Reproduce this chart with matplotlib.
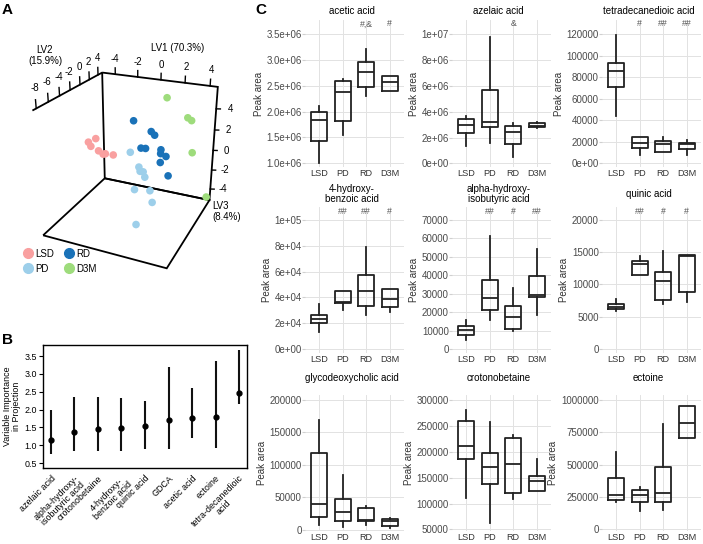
import matplotlib
matplotlib.use('Agg')
import matplotlib.pyplot as plt
import matplotlib.transforms as mtransforms
from matplotlib.lines import Line2D
from mpl_toolkits.mplot3d import proj3d
import numpy as np

plt.rcParams['font.family'] = ['Liberation Sans', 'DejaVu Sans']

W, H = 703, 544

# ---------------- Panel A data (latent variable scores) ----------------
groups = ['LSD', 'PD', 'RD', 'D3M']
group_colors = ['#F9A0A0', '#9DCFEA', '#1A72B8', '#9EDC7C']

LSD_LV1 = [-4.3, -5.2, -4.9, -4.0, -3.9, -3.5, -2.9]
LSD_LV2 = [0.8, 1.3, 1.1, 0.6, 1.4, 0.9, 1.2]
LSD_LV3 = [0.8, 0.1, -0.2, -0.3, -0.9, -0.6, -0.7]

PD_LV1 = [0.3, 1.1, 1.1, 1.4, 1.5, 0.6, 2.0, 2.1, 0.9]
PD_LV2 = [-3.8, -4.2, -3.9, -4.1, -4.0, -3.7, -4.3, -4.0, -4.2]
PD_LV3 = [2.0, 1.0, 0.5, 0.6, 0.1, -1.4, -0.9, -2.1, -4.5]

RD_LV1 = [-1.1, 0.5, 0.7, -0.3, -0.1, 1.3, 1.7, 1.2, 1.3, 1.9]
RD_LV2 = [1.2, 0.8, 1.1, 0.7, 1.3, 0.9, 1.0, 1.2, 0.8, 1.1]
RD_LV3 = [3.0, 2.4, 2.0, 0.7, 0.5, 0.8, 0.2, 0.3, -0.4, -1.7]

D3M_LV1 = [1.1, 3.3, 3.6, 4.0, 4.4]
D3M_LV2 = [3.0, 1.0, 1.0, 0.0, 4.5]
D3M_LV3 = [5.0, 4.1, 3.9, 1.4, -4.7]

LV1_ticks = [-4, -2, 0, 2, 4]
LV2_ticks = [-8, -6, -4, -2, 0, 2, 4]
LV3_ticks = [-4, -2, 0, 2, 4]
LV1_title = 'LV1 (70.3%)'
LV2_title = 'LV2\n(15.9%)'
LV3_title = 'LV3\n(8.4%)'

# ---------------- Panel B data (VIP) ----------------
vip_names = ['azelaic acid', 'alpha-hydroxy-\nisobutyric acid', 'crotonobetaine',
             '4-hydroxy-\nbenzoic acid', 'quinic acid', 'GDCA', 'acetic acid',
             'ectoine', 'tetra-decanedioic\nacid']
vip_mean = [1.15, 1.38, 1.46, 1.49, 1.54, 1.71, 1.77, 1.79, 2.47]
vip_low = [0.76, 0.84, 0.84, 0.84, 0.90, 0.90, 1.19, 0.93, 2.15]
vip_high = [1.99, 2.36, 2.36, 2.33, 2.24, 3.20, 2.60, 3.36, 3.67]
vip_yticks = [0.5, 1.0, 1.5, 2.0, 2.5, 3.0, 3.5]

# ---------------- Panel C data (box stats: whislo, q1, med, q3, whishi) ----------------
box_groups = ['LSD', 'PD', 'RD', 'D3M']

acetic_acid = [[1.00e6, 1.43e6, 1.83e6, 1.99e6, 2.11e6],
               [1.54e6, 1.82e6, 2.39e6, 2.60e6, 2.63e6],
               [2.31e6, 2.47e6, 2.76e6, 2.97e6, 3.21e6],
               [2.40e6, 2.41e6, 2.58e6, 2.69e6, 2.70e6]]
azelaic_acid = [[1.37e6, 2.33e6, 2.95e6, 3.44e6, 3.70e6],
                [1.55e6, 2.82e6, 3.23e6, 5.68e6, 9.82e6],
                [0.52e6, 1.47e6, 2.43e6, 2.92e6, 3.10e6],
                [2.75e6, 2.79e6, 2.90e6, 3.15e6, 3.20e6]]
tetradecanedioic_acid = [[44300, 71300, 85900, 93000, 119400],
                         [7750, 14000, 18600, 24800, 24800],
                         [10800, 10900, 18000, 21100, 24200],
                         [7750, 13300, 18000, 19200, 21700]]
hydroxybenzoic_acid = [[13500, 20000, 23400, 26000, 35000],
                       [30400, 35600, 36400, 45000, 45000],
                       [26000, 33000, 44700, 57700, 79200],
                       [28600, 32500, 39000, 46800, 46800]]
hydroxyisobutyric_acid = [[4900, 7800, 10500, 12400, 16000],
                          [16000, 20900, 27800, 37600, 61300],
                          [9600, 10900, 17300, 23300, 33300],
                          [18200, 28200, 29100, 39500, 54500]]
quinic_acid = [[5900, 6200, 6560, 7030, 7690],
               [11540, 11540, 13230, 13590, 14460],
               [7030, 7640, 10510, 11900, 15230],
               [7280, 8820, 14360, 14620, 14620]]
glycodeoxycholic_acid = [[6700, 19100, 38700, 117500, 169000],
                         [3600, 12900, 27300, 46400, 84000],
                         [6700, 13900, 15000, 32500, 36100],
                         [2600, 5200, 12900, 16500, 18000]]
crotonobetaine = [[110700, 186900, 210800, 259300, 280600],
                  [62900, 137200, 170800, 197900, 256700],
                  [109400, 121100, 177300, 227000, 232200],
                  [124300, 124300, 143700, 153400, 185700]]
ectoine = [[210800, 231400, 270000, 396000, 596500],
           [146500, 216000, 267400, 306000, 331700],
           [151700, 210800, 282800, 480800, 815000],
           [707000, 707000, 822700, 956400, 956400]]

sig_acetic = ['', '', '#,&', '#']
sig_azelaic = ['', '', '&', '']
sig_tetra = ['', '#', '##', '##']
sig_hbenzoic = ['', '##', '##', '#']
sig_hisobutyric = ['', '##', '#', '##']
sig_quinic = ['', '##', '#', '#']
sig_none = ['', '', '', '']

ticks_acetic = [1.0e6, 1.5e6, 2.0e6, 2.5e6, 3.0e6, 3.5e6]
labels_acetic = ['1.0e+06', '1.5e+06', '2.0e+06', '2.5e+06', '3.0e+06', '3.5e+06']
ticks_azelaic = [0, 2e6, 4e6, 6e6, 8e6, 1e7]
labels_azelaic = ['0e+00', '2e+06', '4e+06', '6e+06', '8e+06', '1e+07']
ticks_tetra = [0, 20000, 40000, 60000, 80000, 100000, 120000]
labels_tetra = ['0e+00', '20000', '40000', '60000', '80000', '100000', '120000']
ticks_hbenzoic = [0, 2e4, 4e4, 6e4, 8e4, 1e5]
labels_hbenzoic = ['0e+00', '2e+04', '4e+04', '6e+04', '8e+04', '1e+05']
ticks_hisobutyric = [0, 10000, 20000, 30000, 40000, 50000, 60000, 70000]
labels_hisobutyric = ['0', '10000', '20000', '30000', '40000', '50000', '60000', '70000']
ticks_quinic = [0, 5000, 10000, 15000, 20000]
labels_quinic = ['0', '5000', '10000', '15000', '20000']
ticks_glyco = [0, 50000, 100000, 150000, 200000]
labels_glyco = ['0', '50000', '100000', '150000', '200000']
ticks_croton = [50000, 100000, 150000, 200000, 250000, 300000]
labels_croton = ['50000', '100000', '150000', '200000', '250000', '300000']
ticks_ectoine = [0, 250000, 500000, 750000, 1000000]
labels_ectoine = ['0', '250000', '500000', '750000', '1000000']

# ---------------------------------------------------------------------
fig = plt.figure(figsize=(W / 100, H / 100), dpi=100)


def rect(l, t, r, b):
    return [l / W, 1 - b / H, (r - l) / W, (b - t) / H]


# ---------------- Panel A ----------------
ax3 = fig.add_axes(rect(10, 40, 250, 280), projection='3d')
ax3.set_facecolor('none')
xl, yl, zl = (-5.2, 4.6), (-8.6, 5.0), (-5.2, 6.0)
ax3.set_xlim(*xl)
ax3.set_ylim(*yl)
ax3.set_zlim(*zl)
ax3.view_init(elev=25.16, azim=-65.92)
ax3.set_proj_type('persp', focal_length=0.429)
ax3.set_box_aspect((1.0, 1.039, 1.001))

# place the 3D box so its outline sits where the reference box outline sits (layout only)
box_corners = np.array([[xl[0], yl[0], zl[1]], [xl[0], yl[1], zl[1]], [xl[1], yl[1], zl[1]],
                        [xl[0], yl[0], zl[0]], [xl[0], yl[1], zl[0]], [xl[1], yl[0], zl[0]],
                        [xl[1], yl[1], zl[0]]])
box_target = np.array([[32, 111], [101.5, 72], [218, 87], [43, 235], [106, 179],
                       [167, 268], [209, 200]], dtype=float)
fig.canvas.draw()
M = ax3.get_proj()
bx, by, _ = proj3d.proj_transform(box_corners[:, 0], box_corners[:, 1], box_corners[:, 2], M)
d = ax3.transData.transform(np.column_stack([bx, by]))
P = np.column_stack([d[:, 0], H - d[:, 1]])
pc = P - P.mean(0)
qc = box_target - box_target.mean(0)
s = (pc * qc).sum() / (pc * pc).sum()
t = box_target.mean(0) - s * P.mean(0)
bb = ax3.get_position()
x0, yb, w, h = bb.x0 * W, bb.y0 * H, bb.width * W, bb.height * H
top = H - yb - h
nl, nt, nw, nh = s * x0 + t[0], s * top + t[1], s * w, s * h
ax3.set_position([nl / W, 1 - (nt + nh) / H, nw / W, nh / H])

ax3.grid(False)
for axis in (ax3.xaxis, ax3.yaxis, ax3.zaxis):
    axis.pane.set_alpha(None)
    axis.pane.set_facecolor((1, 1, 1, 0))
    axis.pane.set_edgecolor('black')
    axis.pane.set_linewidth(1.3)
    axis.line.set_color((1, 1, 1, 0))
    axis.set_ticks([])

series = [(LSD_LV1, LSD_LV2, LSD_LV3), (PD_LV1, PD_LV2, PD_LV3),
          (RD_LV1, RD_LV2, RD_LV3), (D3M_LV1, D3M_LV2, D3M_LV3)]
for (sx, sy, sz), g, c in zip(series, groups, group_colors):
    ax3.scatter(sx, sy, sz, color=c, s=30, depthshade=False, edgecolors='none')

tk = dict(color='black', lw=1.0)
tfs = 7
for v in LV1_ticks:
    ax3.plot([v, v], [yl[1], yl[1]], [zl[1], zl[1] + 0.6], **tk)
    ax3.text(v, yl[1], zl[1] + 1.4, str(v), fontsize=tfs, ha='center', va='center')
for v in LV2_ticks:
    ax3.plot([xl[0], xl[0]], [v, v], [zl[1], zl[1] + 0.7], **tk)
    ax3.text(xl[0], v, zl[1] + 1.6, str(v), fontsize=tfs, ha='center', va='center')
for v in LV3_ticks:
    ax3.plot([xl[1], xl[1] + 0.3], [yl[1], yl[1] + 0.15], [v, v], **tk)
    ax3.text(xl[1] + 1.0, yl[1] + 0.5, v, str(v), fontsize=tfs, ha='center', va='center')
ax3.text(1.3, yl[1], zl[1] + 3.0, LV1_title, fontsize=tfs, ha='center', va='center')
ax3.text(xl[0], -6.0, zl[1] + 3.7, LV2_title, fontsize=tfs, ha='center', va='center',
         linespacing=1.1)
ax3.text(xl[1] + 0.3, yl[1], zl[0] - 1.2, LV3_title, fontsize=tfs, ha='left', va='center',
         linespacing=1.1)

handles = [Line2D([], [], marker='o', ls='', color=c, markersize=7) for c in group_colors]
fig.legend(handles, groups, ncol=2, loc='upper left', bbox_to_anchor=(18 / W, 1 - 245 / H),
           frameon=False, fontsize=7, handletextpad=0.2, columnspacing=0.9,
           labelspacing=0.5, handlelength=1.2, borderaxespad=0)

# ---------------- Panel B ----------------
axB = fig.add_axes(rect(43, 345, 247, 468))
xs = np.arange(1, len(vip_names) + 1)
axB.vlines(xs, vip_low, vip_high, color='#111111', lw=1.5)
axB.plot(xs, vip_mean, 'o', color='black', ms=3.5)
axB.set_xlim(0.66, len(vip_names) + 0.34)
axB.set_ylim(0.36, 3.81)
axB.set_yticks(vip_yticks)
axB.set_yticklabels([f'{v:.1f}' for v in vip_yticks])
axB.set_xticks(xs)
axB.set_xticklabels(vip_names, rotation=45, ha='right', rotation_mode='anchor',
                    fontsize=6.4, multialignment='center', linespacing=1.0)
axB.tick_params(axis='x', length=0, pad=4)
axB.tick_params(axis='y', length=3, labelsize=6.4, pad=1.5)
axB.set_ylabel('Variable Importance\nin Projection', fontsize=6.4, labelpad=2, linespacing=1.0)
for s_ in axB.spines.values():
    s_.set_linewidth(1.0)

# ---------------- Panel C ----------------
cols = [(305, 404), (452, 551), (602, 701)]
rows = [(20, 167), (207, 353), (395, 531)]
title_y = [11, 194, 378]

panels = [
    ('acetic acid', acetic_acid, ticks_acetic, labels_acetic, sig_acetic, (0.928e6, 3.777e6)),
    ('azelaic acid', azelaic_acid, ticks_azelaic, labels_azelaic, sig_azelaic, (-0.287e6, 1.111e7)),
    ('tetradecanedioic acid', tetradecanedioic_acid, ticks_tetra, labels_tetra, sig_tetra, (-3440, 133300)),
    ('4-hydroxy-\nbenzoic acid', hydroxybenzoic_acid, ticks_hbenzoic, labels_hbenzoic, sig_hbenzoic, (-3100, 110080)),
    ('alpha-hydroxy-\nisobutyric acid', hydroxyisobutyric_acid, ticks_hisobutyric, labels_hisobutyric, sig_hisobutyric, (-2170, 77050)),
    ('quinic acid', quinic_acid, ticks_quinic, labels_quinic, sig_quinic, (-620, 22015)),
    ('glycodeoxycholic acid', glycodeoxycholic_acid, ticks_glyco, labels_glyco, sig_none, (-2300, 207700)),
    ('crotonobetaine', crotonobetaine, ticks_croton, labels_croton, sig_none, (47100, 309650)),
    ('ectoine', ectoine, ticks_ectoine, labels_ectoine, sig_none, (-11600, 1.0386e6)),
]

line_kw = dict(color='#222222', lw=1.3)
for i, (title, data, ticks, tlabels, sig, ylim) in enumerate(panels):
    r, c = divmod(i, 3)
    l, rr = cols[c]
    tp, b = rows[r]
    ax = fig.add_axes(rect(l, tp, rr, b))
    stats = [dict(whislo=q[0], q1=q[1], med=q[2], q3=q[3], whishi=q[4]) for q in data]
    pos = np.arange(1, len(box_groups) + 1)
    ax.bxp(stats, positions=pos, widths=0.68, showcaps=False, showfliers=False,
           boxprops=line_kw, whiskerprops=line_kw, medianprops=line_kw)
    ax.set_xlim(0.4, len(box_groups) + 0.6)
    ax.set_ylim(*ylim)
    ax.set_yticks(ticks)
    ax.set_yticklabels(tlabels)
    ax.set_xticks(pos)
    ax.set_xticklabels(box_groups)
    ax.grid(True, color='#e2e2e2', lw=0.7)
    ax.set_axisbelow(True)
    for s_ in ax.spines.values():
        s_.set_visible(False)
    ax.tick_params(axis='y', length=2, color='#d0d0d0', labelsize=7, labelcolor='#4a4a4a', pad=0.3)
    ax.tick_params(axis='x', length=0, labelsize=6.6, labelcolor='#333333', pad=1.2)
    ax.set_ylabel('Peak area', fontsize=7, color='#333333', labelpad=2)
    trans = mtransforms.blended_transform_factory(ax.transData, ax.transAxes)
    ph = b - tp
    for p, sg in zip(pos, sig):
        if sg:
            ax.text(p, 1 - 4 / ph, sg, transform=trans, fontsize=6.3, color='#555555',
                    ha='center', va='center')
    fig.text(((l + rr) / 2 - 3) / W, 1 - title_y[r] / H, title, fontsize=7,
             ha='center', va='center', linespacing=1.05)

# ---------------- Panel letters ----------------
for letter, (px, py) in zip('ABC', [(2, 10), (2, 340), (255, 10)]):
    fig.text(px / W, 1 - py / H, letter, fontsize=11, fontweight='bold', ha='left', va='center')

fig.savefig('out.png', dpi=100)
